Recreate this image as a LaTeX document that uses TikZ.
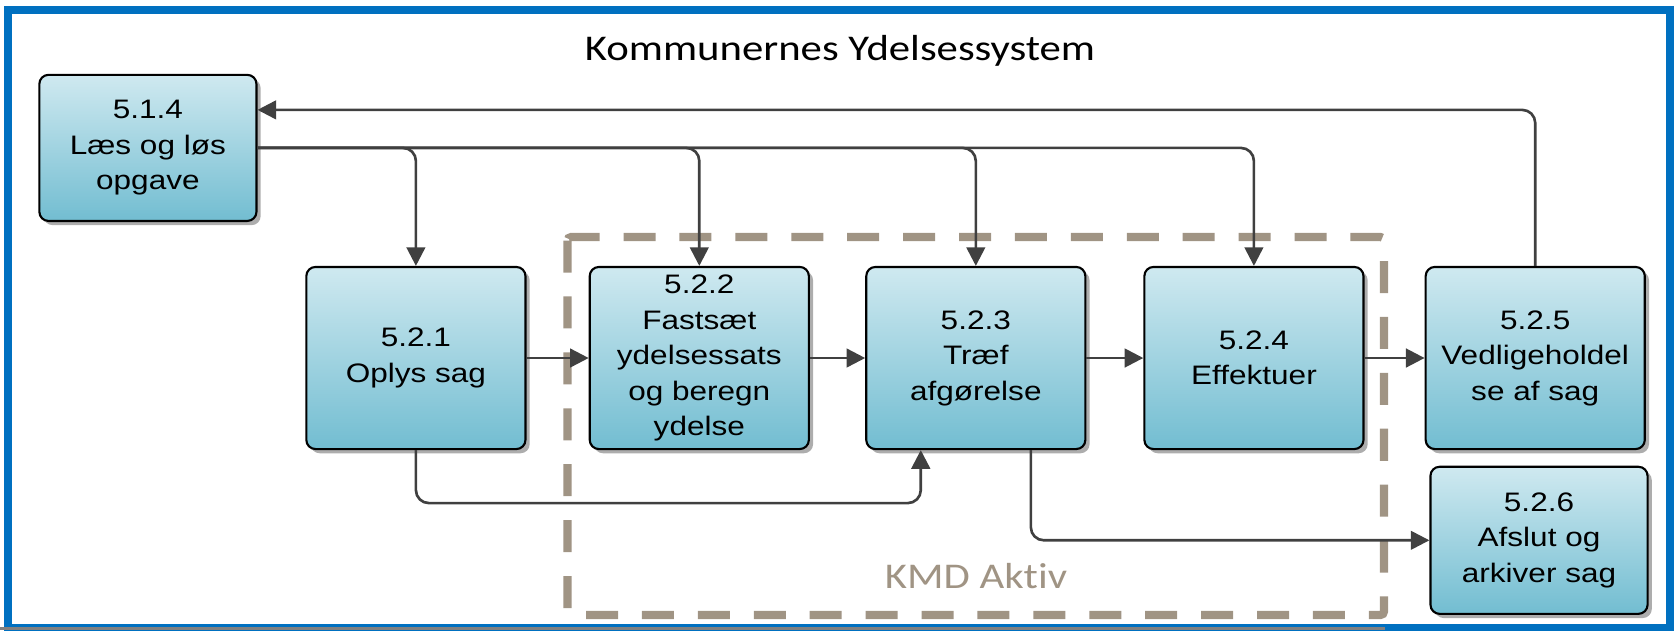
\documentclass[tikz,border=0pt]{standalone}
\usepackage{fontspec}
\usepackage{tikz}
\usetikzlibrary{arrows.meta,shadows}
\newfontfamily\boxfont[FakeStretch=1.18]{Liberation Sans}
\newfontfamily\labelfont[FakeStretch=1.18, Ligatures=NoCommon]{Carlito}
\definecolor{kmdblue}{HTML}{0070C0}
\definecolor{kmdgray}{HTML}{A09484}
\definecolor{boxtop}{HTML}{CFE9F0}
\definecolor{boxbottom}{HTML}{72BDD1}
\definecolor{linegray}{HTML}{404040}

\begin{document}
\begin{tikzpicture}[x=0.01cm, y=-0.01cm,
  box/.style={rectangle, draw=black, line width=0.6pt, rounded corners=2.6pt, top color=boxtop, bottom color=boxbottom, minimum width=2.19cm, minimum height=1.82cm, align=center, inner sep=0pt, font={\boxfont\fontsize{7.6}{10.1}\selectfont}, drop shadow={shadow xshift=1.2pt, shadow yshift=-1.2pt, fill=black!40, opacity=0.8}},
  link/.style={draw=linegray, line width=0.75pt, rounded corners=3.7pt, -{Triangle[length=5.3pt,width=5.3pt]}},
  label/.style={font={\labelfont\fontsize{10.3}{12}\selectfont}, anchor=base}]
\useasboundingbox (0,0) rectangle (1674,630);
\draw[kmdblue, line width=2.3pt] (8,10) rectangle (1670.5,628.5);
\fill[black!50] (0,627) rectangle (1385,630);
\node[label] (title) at (840,60) {Kommunernes Ydelsessystem};
\draw[kmdgray, line width=2.3pt, dash pattern=on 9.1pt off 6.8pt, rounded corners=1pt] (567.5,237) rectangle (1384,615);
\node[label, text=kmdgray] (kmd) at (976,588) {KMD Aktiv};
\node[box, minimum width=2.17cm, minimum height=1.46cm] (514) at (147.9,147.9) {5.1.4\\Læs og løs\\opgave};
\node[box] (521) at (415.9,358) {5.2.1\\Oplys sag};
\node[box] (522) at (699.3,358) {5.2.2\\Fastsæt\\ydelsessats\\og beregn\\ydelse};
\node[box] (523) at (975.8,358) {5.2.3\\Træf\\afgørelse};
\node[box] (524) at (1253.9,358) {5.2.4\\Effektuer};
\node[box] (525) at (1535.2,358) {5.2.5\\Vedligeholdel\\se af sag};
\node[box, minimum width=2.17cm, minimum height=1.47cm] (526) at (1539,540.3) {5.2.6\\Afslut og\\arkiver sag};
\draw[link] (525.north) |- ([yshift=0.38cm]514.east);
\draw[link] (514.east) -| (521.north);
\draw[link] (514.east) -| (522.north);
\draw[link] (514.east) -| (523.north);
\draw[link] (514.east) -| (524.north);
\draw[link] (521.east) -- (522.west);
\draw[link] (522.east) -- (523.west);
\draw[link] (523.east) -- (524.west);
\draw[link] (524.east) -- (525.west);
%%\draw[link] (525.south) -- (526.north);
\draw[link] (521.south) -- ++(0,53) -| ([xshift=-0.55cm]523.south);
\draw[link] ([xshift=0.55cm]523.south) |- (526.west);
\end{tikzpicture}
\end{document}
